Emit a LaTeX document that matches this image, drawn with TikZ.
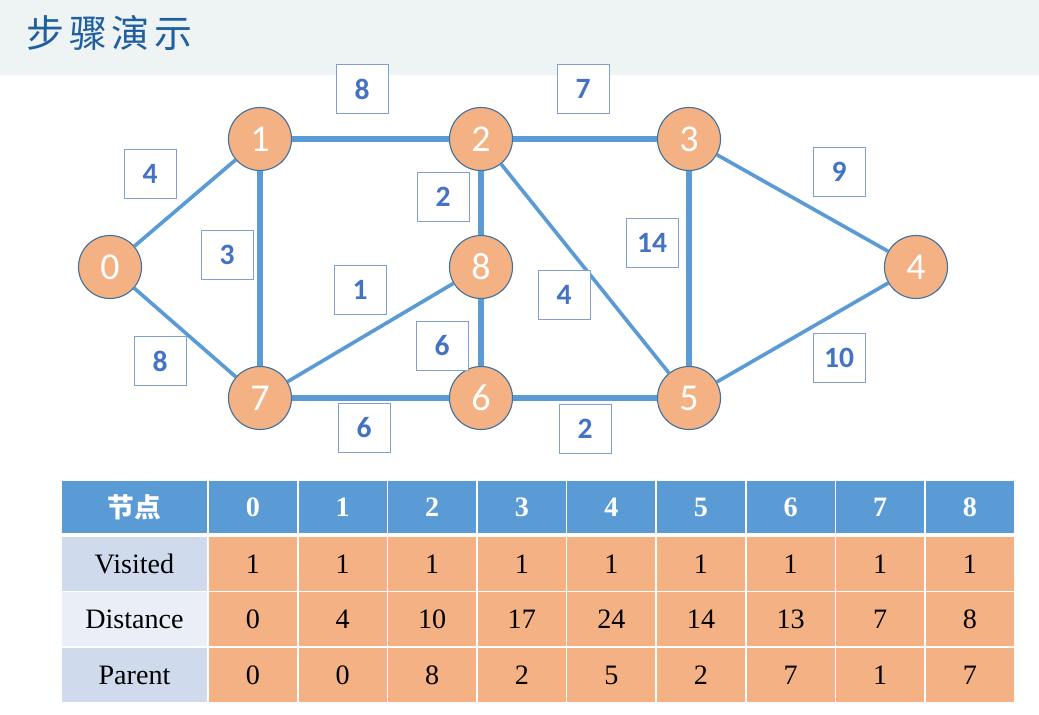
\documentclass[tikz,border=0pt]{standalone}
\usepackage{fontspec}
\setmainfont{Liberation Serif}
\newfontfamily\cjk{Noto Sans CJK SC}
\newfontfamily\calibri{Carlito}
\usetikzlibrary{positioning}
\definecolor{edgeblue}{HTML}{5B9BD5}
\definecolor{nodeorange}{HTML}{F4B183}
\definecolor{nodeline}{HTML}{41719C}
\definecolor{weightblue}{HTML}{4472C4}
\definecolor{boxline}{HTML}{7F9FD6}
\definecolor{headband}{HTML}{EEF3F4}
\definecolor{titleblue}{HTML}{1F5F9F}
\definecolor{rowdark}{HTML}{CFDAEC}
\definecolor{rowlight}{HTML}{E9EEF7}

\begin{document}
\begin{tikzpicture}[x=0.025cm, y=-0.025cm,
    vertex/.style={circle, draw=nodeline, line width=0.8pt, fill=nodeorange,
      minimum size=1.575cm, inner sep=0pt, text=white, font=\calibri\fontsize{27}{27}\selectfont},
    weight/.style={draw=boxline, line width=0.7pt, fill=white, minimum width=1.3cm,
      minimum height=1.225cm, inner sep=0pt, text=weightblue, font=\calibri\bfseries\fontsize{21}{21}\selectfont},
    thick edge/.style={edgeblue, line width=3.6pt},
    thin edge/.style={edgeblue, line width=2.6pt},
    headcell/.style={fill=edgeblue, minimum height=1.3cm, inner sep=0pt, text=white},
    cell/.style={fill=nodeorange, minimum width=2.2cm, minimum height=1.325cm, inner sep=0pt,
      font=\fontsize{20}{20}\selectfont}]
  \useasboundingbox (0,0) rectangle (1039,715);
  % title band
  \fill[headband] (0,0) rectangle (1039,75);
  \node[anchor=west, text=titleblue, font=\cjk\fontsize{27}{27}\selectfont] (title) at (22,33)
    {步\hspace{0.12em}骤\hspace{0.12em}演\hspace{0.12em}示};

  % vertices
  \node[vertex] (v0) at (110,267) {0};
  \node[vertex] (v1) at (260,139) {1};
  \node[vertex] (v2) at (481,139) {2};
  \node[vertex] (v3) at (689,139) {3};
  \node[vertex] (v4) at (916,267) {4};
  \node[vertex] (v8) at (481,267) {8};
  \node[vertex] (v7) at (260,398) {7};
  \node[vertex] (v6) at (481,398) {6};
  \node[vertex] (v5) at (689,398) {5};

  % edges
  \draw[thin edge] (v0) -- (v1);
  \draw[thin edge] (v0) -- (v7);
  \draw[thick edge] (v1) -- (v2);
  \draw[thick edge] (v1) -- (v7);
  \draw[thick edge] (v2) -- (v3);
  \draw[thick edge] (v2) -- (v8);
  \draw[thin edge] (v2) -- (v5);
  \draw[thick edge] (v3) -- (v5);
  \draw[thin edge] (v3) -- (v4);
  \draw[thin edge] (v5) -- (v4);
  \draw[thin edge] (v7) -- (v8);
  \draw[thick edge] (v8) -- (v6);
  \draw[thick edge] (v7) -- (v6);
  \draw[thick edge] (v6) -- (v5);

  % edge weights
  \node[weight] (w01) at (150,174) {4};
  \node[weight] (w17) at (227,255) {3};
  \node[weight] (w07) at (160,361) {8};
  \node[weight] (w12) at (362,89) {8};
  \node[weight] (w23) at (583,89) {7};
  \node[weight] (w28) at (443,197) {2};
  \node[weight] (w78) at (360,290) {1};
  \node[weight] (w86) at (442,346) {6};
  \node[weight] (w25) at (564,295) {4};
  \node[weight] (w35) at (652,243) {14};
  \node[weight] (w34) at (839,172) {9};
  \node[weight] (w54) at (839,358) {10};
  \node[weight] (w76) at (364,428) {6};
  \node[weight] (w65) at (585,429) {2};

  % table header
  \node[headcell, minimum width=3.625cm, font=\cjk\bfseries\fontsize{19}{19}\selectfont] (hd) at (134.5,507) {节点};
  \foreach \c in {0,...,8}{
    \node[headcell, minimum width=2.2cm, font=\bfseries\fontsize{20}{20}\selectfont] (h\c) at (253+\c*89.6,507) {\c};
  }

  % table rows
  \node[fill=rowdark, minimum width=3.625cm, minimum height=1.325cm, font=\fontsize{20}{20}\selectfont] (rv) at (134.5,564) {Visited};
  \node[fill=rowlight, minimum width=3.625cm, minimum height=1.325cm, font=\fontsize{20}{20}\selectfont] (rd) at (134.5,619) {Distance};
  \node[fill=rowdark, minimum width=3.625cm, minimum height=1.325cm, font=\fontsize{20}{20}\selectfont] (rp) at (134.5,675) {Parent};
  \foreach \v [count=\c from 0] in {1,1,1,1,1,1,1,1,1}{
    \node[cell] (cv\c) at (253+\c*89.6,564) {\v};
  }
  \foreach \v [count=\c from 0] in {0,4,10,17,24,14,13,7,8}{
    \node[cell] (cd\c) at (253+\c*89.6,619) {\v};
  }
  \foreach \v [count=\c from 0] in {0,0,8,2,5,2,7,1,7}{
    \node[cell] (cp\c) at (253+\c*89.6,675) {\v};
  }
\end{tikzpicture}
\end{document}
